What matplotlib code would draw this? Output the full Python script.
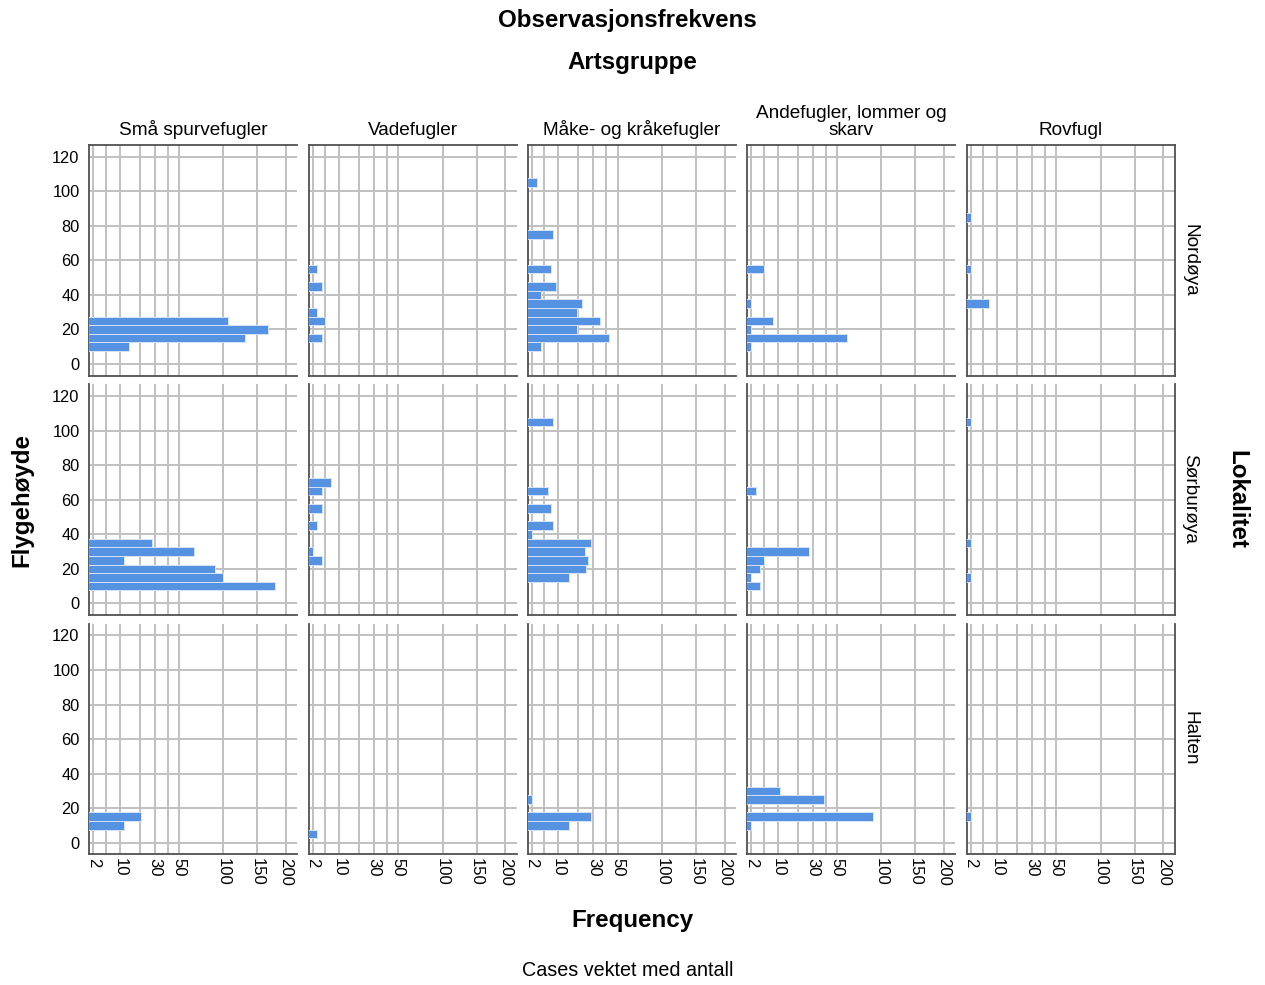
import matplotlib.pyplot as plt
import numpy as np

plt.rcParams['font.family'] = ['Liberation Sans', 'DejaVu Sans']

# flight height bins (m), 5 m wide
hoyder = [5, 10, 15, 20, 25, 30, 35, 40, 45, 50, 55, 60, 65, 70, 75, 80, 85, 90, 95, 100, 105]

grupper = ["Små spurvefugler", "Vadefugler", "Måke- og kråkefugler",
           "Andefugler, lommer og\nskarv", "Rovfugl"]
lokaliteter = ["Nordøya", "Sørburøya", "Halten"]

# weighted counts per height bin, one row per artsgruppe
nordoya = [
    [0, 14, 131, 168, 107, 0, 0, 0, 0, 0, 0, 0, 0, 0, 0, 0, 0, 0, 0, 0, 0],
    [0, 0, 4, 0, 5, 3, 0, 0, 4, 0, 3, 0, 0, 0, 0, 0, 0, 0, 0, 0, 0],
    [0, 4, 42, 19, 35, 19, 22, 4, 9, 0, 7, 0, 0, 0, 8, 0, 0, 0, 0, 0, 3],
    [0, 2, 60, 2, 8, 0, 2, 0, 0, 0, 5, 0, 0, 0, 0, 0, 0, 0, 0, 0, 0],
    [0, 0, 0, 0, 0, 0, 7, 0, 0, 0, 2, 0, 0, 0, 0, 0, 2, 0, 0, 0, 0],
]
sorburoya = [
    [0, 180, 100, 89, 12, 65, 28, 0, 0, 0, 0, 0, 0, 0, 0, 0, 0, 0, 0, 0, 0],
    [0, 0, 0, 0, 4, 2, 0, 0, 3, 0, 4, 0, 4, 7, 0, 0, 0, 0, 0, 0, 0],
    [0, 0, 15, 25, 26, 24, 28, 2, 8, 0, 7, 0, 6, 0, 0, 0, 0, 0, 0, 0, 8],
    [0, 4, 2, 4, 5, 27, 0, 0, 0, 0, 0, 0, 3, 0, 0, 0, 0, 0, 0, 0, 0],
    [0, 0, 2, 0, 0, 0, 2, 0, 0, 0, 0, 0, 0, 0, 0, 0, 0, 0, 0, 0, 2],
]
halten = [
    [0, 12, 21, 0, 0, 0, 0, 0, 0, 0, 0, 0, 0, 0, 0, 0, 0, 0, 0, 0, 0],
    [3, 0, 0, 0, 0, 0, 0, 0, 0, 0, 0, 0, 0, 0, 0, 0, 0, 0, 0, 0, 0],
    [0, 15, 28, 0, 2, 0, 0, 0, 0, 0, 0, 0, 0, 0, 0, 0, 0, 0, 0, 0, 0],
    [0, 2, 89, 0, 39, 11, 0, 0, 0, 0, 0, 0, 0, 0, 0, 0, 0, 0, 0, 0, 0],
    [0, 0, 2, 0, 0, 0, 0, 0, 0, 0, 0, 0, 0, 0, 0, 0, 0, 0, 0, 0, 0],
]

xticks = [2, 10, 30, 50, 100, 150, 200]
xgrid = [2, 5, 10, 20, 30, 40, 50, 100, 150, 200]
yticks = [0, 20, 40, 60, 80, 100, 120]

BAR = '#5592e2'
GRID = '#c0c0c0'
FRAME = '#505050'

W, H = 1265, 985
fig = plt.figure(figsize=(W / 100, H / 100), dpi=100)

def px(x, y, w, h):
    return [x / W, 1 - (y + h) / H, w / W, h / H]

data = [nordoya, sorburoya, halten]
for r, rows in enumerate(data):
    for c, counts in enumerate(rows):
        ax = fig.add_axes(px(89.3 + c * 219.35, 145 + r * 239.35, 208, 230.6))
        ax.set_xscale('function', functions=(lambda x: np.sqrt(np.clip(x, 0, None)), np.square))
        ys = [h for h, v in zip(hoyder, counts) if v > 0]
        vs = [v for v in counts if v > 0]
        ax.barh(ys, vs, height=5, color=BAR, edgecolor='#d6e3f5', linewidth=0.7, zorder=3)
        ax.set_xlim(1.32, 222)
        ax.set_ylim(-6.7, 126.8)
        for g in xgrid:
            ax.axvline(g, color=GRID, lw=1.4, zorder=1)
        for g in yticks:
            ax.axhline(g, color=GRID, lw=1.4, zorder=1)
        ax.set_xticks(xticks)
        ax.set_xticklabels([str(t) for t in xticks], rotation=-90, fontsize=12)
        ax.set_yticks(yticks)
        ax.set_yticklabels([str(t) for t in yticks], fontsize=11.8)
        ax.xaxis.set_minor_locator(plt.NullLocator())
        ax.tick_params(length=0, pad=3, labelbottom=(r == 2), labelleft=(c == 0))
        ax.tick_params(axis='y', pad=7)
        for s in ax.spines.values():
            s.set_color(FRAME)
            s.set_linewidth(1.3)
        ax.spines['top'].set_visible(r == 0)
        ax.spines['right'].set_visible(c == 4)
        if r == 0:
            fig.text((89.3 + c * 219.35 + 104) / W, 1 - 139 / H, grupper[c],
                     ha='center', va='bottom', fontsize=13.7, linespacing=1.0)
        if c == 4:
            fig.text(1190 / W, 1 - (145 + r * 239.35 + 115) / H, lokaliteter[r],
                     rotation=-90, ha='center', va='center', fontsize=13.7)

fig.text(627 / W, 1 - 20 / H, "Observasjonsfrekvens", ha='center', va='center',
         fontsize=17.4, fontweight='bold')
fig.text(632 / W, 1 - 62 / H, "Artsgruppe", ha='center', va='center',
         fontsize=17.4, fontweight='bold')
fig.text(22 / W, 1 - 500 / H, "Flygehøyde", rotation=90, ha='center', va='center',
         fontsize=17.4, fontweight='bold')
fig.text(1237 / W, 1 - 500 / H, "Lokalitet", rotation=-90, ha='center', va='center',
         fontsize=17.4, fontweight='bold')
fig.text(632 / W, 1 - 921 / H, "Frequency", ha='center', va='center',
         fontsize=17.4, fontweight='bold')
fig.text(628 / W, 1 - 970 / H, "Cases vektet med antall", ha='center', va='center',
         fontsize=14.2)

fig.savefig("out.png", dpi=100)
